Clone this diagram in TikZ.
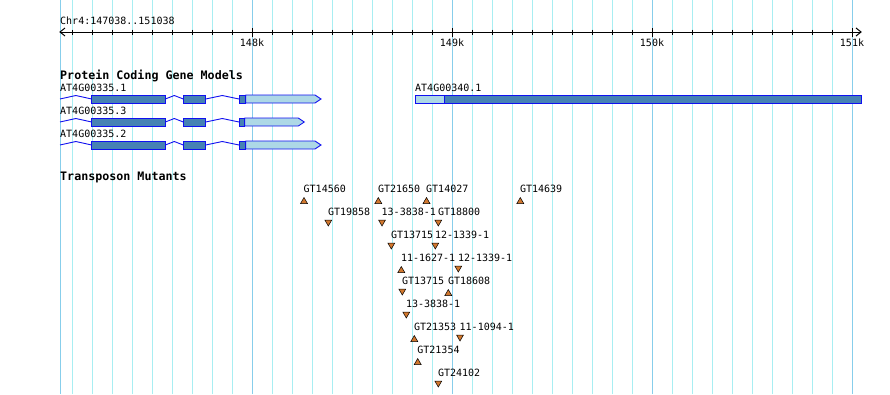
\documentclass[tikz,border=0pt]{standalone}
\usepackage{fontspec}
\setmonofont{DejaVu Sans Mono}
\usetikzlibrary{shapes.geometric}
\definecolor{gridminor}{HTML}{A8EEF2}
\definecolor{gridmajor}{HTML}{87CEEB}
\definecolor{cdsfill}{HTML}{4682B4}
\definecolor{utrfill}{HTML}{ADD8E6}
\definecolor{genestroke}{HTML}{1010F0}
\definecolor{tnfill}{HTML}{D2782E}
\begin{document}
\begin{tikzpicture}[x=1pt,y=-1pt,
  lbl/.style={font=\ttfamily\fontsize{10}{10}\selectfont, inner sep=0pt, anchor=west},
  ttl/.style={font=\ttfamily\bfseries\fontsize{11.67}{12}\selectfont, inner sep=0pt, anchor=west},
  ticklbl/.style={font=\ttfamily\fontsize{10}{10}\selectfont, inner sep=0pt, anchor=center},
  minorgrid/.style={draw=gridminor, line width=1pt},
  majorgrid/.style={draw=gridmajor, line width=1pt},
  cds/.style={draw=genestroke, fill=cdsfill, line width=0.9pt},
  utr/.style={draw=genestroke, fill=utrfill, line width=0.9pt},
  intron/.style={draw=genestroke, line width=0.9pt},
  tnup/.style={regular polygon, regular polygon sides=3, minimum size=8pt, inner sep=0pt,
               draw=black, fill=tnfill, line width=0.5pt},
  tndown/.style={tnup, shape border rotate=180},
  axis/.style={draw=black, line width=1pt}]
\useasboundingbox (0,0) rectangle (890,394);
\fill[white] (0,0) rectangle (890,394);
% grid
\foreach \x in {72,92,...,852} {\draw[minorgrid] (\x,0) -- (\x,394);}
\foreach \x in {60,252,452,652,852} {\draw[majorgrid] (\x,0) -- (\x,394);}
% ruler
\node[lbl] (title) at (60,21) {Chr4:147038..151038};
\coordinate (axl) at (60,32);
\coordinate (axr) at (861,32);
\draw[axis] (axl) -- (axr);
\draw[axis] (65,28) -- (axl) -- (65,36);
\draw[axis] (856,28) -- (axr) -- (856,36);
\foreach \x in {72,92,...,852} {\draw[axis] (\x,29.5) -- (\x,34.5);}
\foreach \x in {252,452,652,852} {\draw[axis] (\x,28) -- (\x,37);}
\node[ticklbl] (k148) at (252,43) {148k};
\node[ticklbl] (k149) at (452,43) {149k};
\node[ticklbl] (k150) at (652,43) {150k};
\node[ticklbl] (k151) at (852,43) {151k};
% gene models
\node[ttl] (pcgm) at (60,76) {Protein Coding Gene Models};
\foreach \y/\nm/\e/\ue/\ut in {99/AT4G00335.1/245.7/315/321, 122/AT4G00335.3/244.7/298.3/304.3, 145/AT4G00335.2/245.7/315/321} {
  \node[lbl] at (60,\y-11) {\nm};
  \draw[intron] (60,\y) -- (75.8,\y-3.5) -- (91.7,\y);
  \draw[intron] (165.3,\y) -- (174.3,\y-3.5) -- (183.3,\y);
  \draw[intron] (205.7,\y) -- (222.3,\y-3.5) -- (239,\y);
  \draw[cds] (91.7,\y-4) rectangle (165.3,\y+4);
  \draw[cds] (183.3,\y-4) rectangle (205.7,\y+4);
  \draw[utr] (\e,\y-4) -- (\ue,\y-4) -- (\ut,\y) -- (\ue,\y+4) -- (\e,\y+4) -- cycle;
  \draw[cds] (239,\y-4) rectangle (\e,\y+4);
}
\node[lbl] (g340) at (415,88) {AT4G00340.1};
\draw[utr] (415.3,95) rectangle (444.3,103);
\draw[cds] (444.3,95) rectangle (861,103);
% transposon mutants
\node[ttl] (tm) at (60,177) {Transposon Mutants};
\foreach \x/\r/\t/\d/\n in {
  304/0/GT14560/u/a1, 378.3/0/GT21650/u/a2, 426.5/0/GT14027/u/a3, 520.3/0/GT14639/u/a4,
  328.3/1/GT19858/d/b1, 382/1/13-3838-1/d/b2, 438.3/1/GT18800/d/b3,
  391.3/2/GT13715/d/c1, 435.3/2/12-1339-1/d/c2,
  401.3/3/11-1627-1/u/d1, 458.3/3/12-1339-1/d/d2,
  402.3/4/GT13715/d/e1, 448.3/4/GT18608/u/e2,
  406.3/5/13-3838-1/d/f1,
  414.3/6/GT21353/u/g1, 460/6/11-1094-1/d/g2,
  417.7/7/GT21354/u/h1,
  438.3/8/GT24102/d/i1} {
  \pgfmathsetmacro{\ly}{189+23*\r}
  \node[lbl] (l\n) at (\x-0.5,\ly) {\t};
  \if\d u
    \node[tnup] (t\n) at (\x,\ly+12.5) {};
  \else
    \node[tndown] (t\n) at (\x,\ly+10) {};
  \fi
}
\end{tikzpicture}
\end{document}
